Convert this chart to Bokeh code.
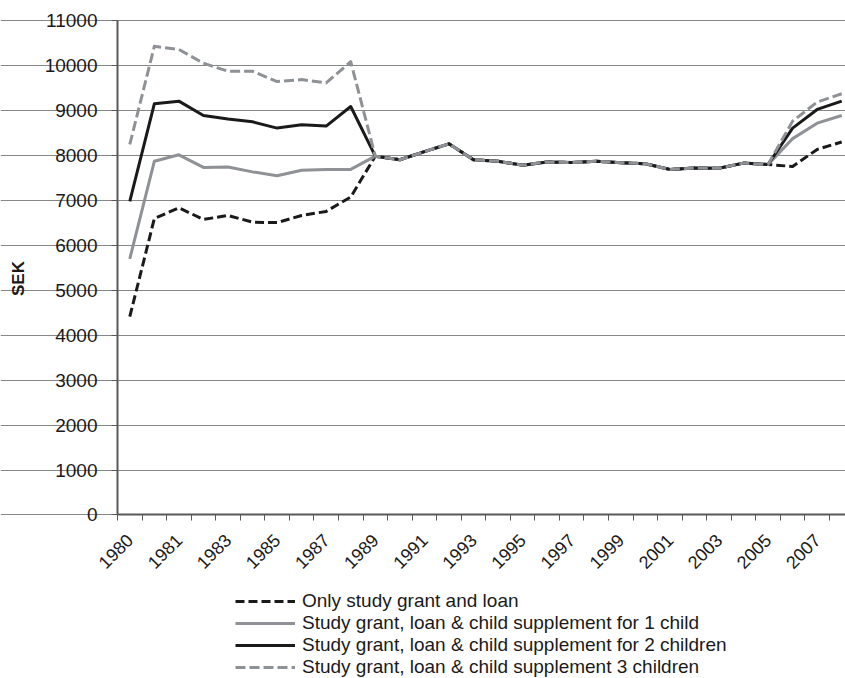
import math
from bokeh.plotting import figure
from bokeh.models import Legend, LegendItem, FixedTicker, ColumnDataSource, Label
from bokeh.embed import file_html
from bokeh.resources import INLINE

# Category labels (the second 1980 entry is an unlabelled category)
years = ["1980", "1980", "1981", "1982", "1983", "1984", "1985", "1986", "1987", "1988",
         "1989", "1990", "1991", "1992", "1993", "1994", "1995", "1996", "1997", "1998",
         "1999", "2000", "2001", "2002", "2003", "2004", "2005", "2006", "2007", "2008"]

only_grant = [4415, 6600, 6840, 6580, 6670, 6520, 6510, 6670, 6760, 7080,
              7990, 7910, 8090, 8265, 7910, 7875, 7790, 7860, 7850, 7875,
              7845, 7820, 7695, 7725, 7720, 7835, 7805, 7760, 8140, 8305]

one_child = [5705, 7875, 8020, 7740, 7750, 7640, 7555, 7675, 7695, 7695,
             7990, 7910, 8090, 8265, 7910, 7875, 7790, 7860, 7850, 7875,
             7845, 7820, 7695, 7725, 7720, 7835, 7805, 8380, 8725, 8895]

two_children = [6985, 9155, 9215, 8895, 8815, 8755, 8615, 8690, 8660, 9095,
                7990, 7910, 8090, 8265, 7910, 7875, 7790, 7860, 7850, 7875,
                7845, 7820, 7695, 7725, 7720, 7835, 7805, 8615, 9030, 9215]

three_children = [8250, 10435, 10365, 10060, 9880, 9880, 9650, 9695, 9620, 10095,
                  7990, 7910, 8090, 8265, 7910, 7875, 7790, 7860, 7850, 7875,
                  7845, 7820, 7695, 7725, 7720, 7835, 7805, 8770, 9195, 9380]

labels = ["Only study grant and loan",
          "Study grant, loan & child supplement for 1 child",
          "Study grant, loan & child supplement for 2 children",
          "Study grant, loan & child supplement 3 children"]

y_label = "SEK"
y_ticks = list(range(0, 11001, 1000))

x = list(range(len(years)))
src = ColumnDataSource(dict(x=x, g=only_grant, c1=one_child, c2=two_children, c3=three_children))

FONT = "Liberation Sans"
BLACK = "#1a1a1a"
GRAY = "#8e9195"
AXIS = "#595959"
N = len(years)

# The frame covers the whole page so that axis labels and the legend are not clipped;
# both axes are pinned at the plot-area edges (x = -0.5, y = 0).
p = figure(width=845, height=678, output_backend="svg", toolbar_location=None,
           x_range=(-5.266, 29.154), y_range=(-3641, 11456),
           min_border_left=0, min_border_right=0, min_border_top=0, min_border_bottom=0)
p.outline_line_color = None
p.background_fill_color = "white"

r0 = p.line("x", "g", source=src, line_color=BLACK, line_width=3, line_dash="9 4", line_join="round")
r1 = p.line("x", "c1", source=src, line_color=GRAY, line_width=3, line_join="round")
r2 = p.line("x", "c2", source=src, line_color=BLACK, line_width=3, line_join="round")
r3 = p.line("x", "c3", source=src, line_color=GRAY, line_width=3, line_dash="10 4", line_join="round")

# x axis: labels at every other category centre, tick marks at category boundaries
xa = p.xaxis[0]
xa.fixed_location = 0
xa.bounds = (-0.5, N - 0.5)
xa.ticker = FixedTicker(ticks=list(range(0, N, 2)),
                        minor_ticks=[k - 0.5 for k in range(N + 1)])
xa.major_label_overrides = {i: years[i] for i in range(0, N, 2)}
xa.major_tick_out = 0
xa.major_tick_in = 0
xa.minor_tick_out = 6
xa.minor_tick_in = 0
xa.minor_tick_line_color = AXIS
xa.axis_line_color = AXIS
xa.axis_line_width = 2
xa.major_label_orientation = math.pi / 4
xa.major_label_text_font = FONT
xa.major_label_text_font_size = "18px"
xa.major_label_text_color = "#1a1a1a"
xa.major_label_standoff = 16

ya = p.yaxis[0]
ya.fixed_location = -0.5
ya.bounds = (0, 11000)
ya.ticker = FixedTicker(ticks=y_ticks)
ya.major_tick_out = 6
ya.major_tick_in = 0
ya.minor_tick_line_color = None
ya.major_tick_line_color = AXIS
ya.axis_line_color = AXIS
ya.axis_line_width = 2
ya.major_label_text_font = FONT
ya.major_label_text_font_size = "19px"
ya.major_label_text_color = "#1a1a1a"
ya.major_label_standoff = 14

p.xgrid.visible = False
p.ygrid.ticker = FixedTicker(ticks=y_ticks)
p.ygrid.bounds = (-0.5, N - 0.5)
p.ygrid.grid_line_color = "#878787"
p.ygrid.grid_line_width = 1

p.add_layout(Label(x=18, y=400, x_units="screen", y_units="screen", text=y_label,
                   angle=math.pi / 2, text_align="center", text_baseline="middle",
                   text_font=FONT, text_font_size="17px", text_font_style="bold",
                   text_color="#1a1a1a"))

legend = Legend(items=[LegendItem(label=labels[0], renderers=[r0]),
                       LegendItem(label=labels[1], renderers=[r1]),
                       LegendItem(label=labels[2], renderers=[r2]),
                       LegendItem(label=labels[3], renderers=[r3])],
                location=(235, 0), orientation="vertical",
                label_text_font=FONT, label_text_font_size="19px", label_text_color="#1a1a1a",
                label_height=20, glyph_height=20, glyph_width=60, spacing=0, padding=0,
                label_standoff=7, border_line_color=None, background_fill_alpha=0,
                margin=0)
p.add_layout(legend)

open("out.html", "w").write(file_html(p, INLINE))
